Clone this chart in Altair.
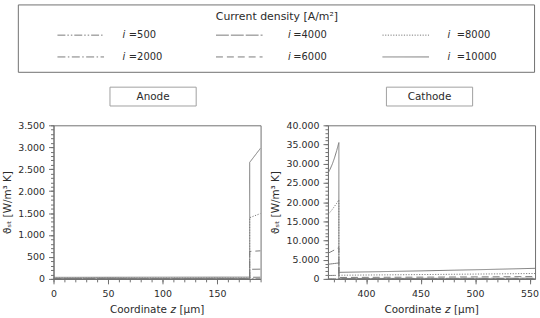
import altair as alt
import pandas as pd

# ---------------- data ----------------
currents = ["500", "2000", "4000", "6000", "8000", "10000"]

anode_z = [0, 90, 180, 180, 190]
anode_i500 = [0, 0, 0, 1, 1]
anode_i2000 = [0.5, 0.5, 0.5, 36, 38]
anode_i4000 = [3, 3, 3, 218, 222]
anode_i6000 = [8, 8, 9, 625, 640]
anode_i8000 = [18, 19, 20, 1395, 1490]
anode_i10000 = [35, 38, 40, 2655, 2980]

cathode_z = [365, 367, 369, 371, 373, 375, 375, 420, 465, 510, 555]
cathode_i500 = [20, 20, 21, 21, 22, 22, 0.3, 0.3, 0.4, 0.4, 0.5]
cathode_i2000 = [880, 890, 900, 910, 920, 930, 15, 17, 19, 22, 25]
cathode_i4000 = [3800, 3870, 3940, 4010, 4080, 4150, 110, 125, 140, 160, 180]
cathode_i6000 = [6700, 6950, 7250, 7550, 7850, 8200, 370, 420, 470, 530, 600]
cathode_i8000 = [16800, 17400, 18100, 18900, 19700, 20600, 950, 1050, 1160, 1280, 1400]
cathode_i10000 = [27500, 28600, 29900, 31500, 33400, 35500, 1700, 1920, 2170, 2440, 2750]

anode_xticks = [0, 50, 100, 150]
cathode_xticks = [400, 450, 500, 550]
anode_yticks = [0, 500, 1000, 1500, 2000, 2500, 3000, 3500]
cathode_yticks = [0, 5000, 10000, 15000, 20000, 25000, 30000, 35000, 40000]
panel_names = ["Anode", "Cathode"]
xtitle_parts = ["Coordinate", "z", "[µm]"]

# ---------------- styling ----------------
LINE = "#7a7a7a"
FRAME = "#707070"
TXT = "#2b2b2b"
PADL = 1
OX = 53  # page x of anode plot origin
PW, PH = 209, 155

dash_range = [[8, 2, 1.5, 2, 1.5, 2], [8, 2.5, 1.5, 2.5], [13, 2], [7, 4], [1.2, 1.5], [1, 0]]
dash_scale = alt.Scale(domain=currents, range=dash_range)

YTITLE = "ϑₛₜ  [W/m³ K]"
LABEL_EXPR = "replace(format(datum.value, ','), ',', '.')"


def long_df(z, series):
    rows = []
    for cur, vals in zip(currents, series):
        for k, (zz, v) in enumerate(zip(z, vals)):
            rows.append({"z": zz, "q": v, "i": cur, "k": k})
    return pd.DataFrame(rows)


anode_df = long_df(anode_z, [anode_i500, anode_i2000, anode_i4000, anode_i6000, anode_i8000, anode_i10000])
cathode_df = long_df(cathode_z, [cathode_i500, cathode_i2000, cathode_i4000, cathode_i6000, cathode_i8000, cathode_i10000])

one = alt.Data(values=[{"a": 1}])


def x_title_layers():
    # "Coordinate z [µm]" with italic z, centred under the plot
    start = PW / 2 - 47.5
    ty = PH + 31
    a = alt.Chart(one).mark_text(text=xtitle_parts[0], fontSize=10.5, color=TXT, align="left").encode(
        x=alt.value(start), y=alt.value(ty))
    b = alt.Chart(one).mark_text(text=xtitle_parts[1], fontSize=10.5, color=TXT, align="left",
                                 fontStyle="italic").encode(x=alt.value(start + 61.2), y=alt.value(ty))
    c = alt.Chart(one).mark_text(text=xtitle_parts[2], fontSize=10.5, color=TXT, align="left").encode(
        x=alt.value(start + 70.2), y=alt.value(ty))
    return [a, b, c]


def panel(df, xdom, xticks, xminor, ydom, yticks, yminor):
    xs = alt.Scale(domain=xdom, nice=False, zero=False)
    ys = alt.Scale(domain=ydom, nice=False, zero=False)
    base = alt.Chart(df)
    main = base.mark_line(color=LINE, strokeWidth=1, clip=True).encode(
        x=alt.X("z:Q", scale=xs,
                axis=alt.Axis(values=xticks, title=None, labelFlush=False,
                              labelPadding=5, format="d")),
        y=alt.Y("q:Q", scale=ys,
                axis=alt.Axis(values=yticks, title=YTITLE, labelExpr=LABEL_EXPR,
                              labelPadding=4, titlePadding=5.5)),
        strokeDash=alt.StrokeDash("i:N", scale=dash_scale, legend=None),
        order=alt.Order("k:Q"),
    )
    minor = base.mark_line(opacity=0).encode(
        x=alt.X("z:Q", scale=xs,
                axis=alt.Axis(values=xminor, labels=False, domain=False, tickSize=3,
                              title=None, orient="bottom")),
        y=alt.Y("q:Q", scale=ys,
                axis=alt.Axis(values=yminor, labels=False, domain=False, tickSize=3,
                              title=None, orient="left")),
        detail="i:N",
        order=alt.Order("k:Q"),
    )
    return alt.layer(main, minor, *x_title_layers()).resolve_axis(
        x="independent", y="independent").properties(width=PW, height=PH)


anode = panel(anode_df, [0, 190], anode_xticks, list(range(0, 191, 10)),
              [0, 3500], anode_yticks, list(range(0, 3501, 100)))
cathode = panel(cathode_df, [365, 555], cathode_xticks, list(range(370, 556, 10)),
                [0, 40000], cathode_yticks, list(range(0, 40001, 1000)))

# ---------------- legend / header ----------------
col_of = [k // 2 for k in range(len(currents))]
row_of = [k % 2 for k in range(len(currents))]
sym_x0 = [57, 217, 385]
i_x = [124, 291, 452]
eq_x = [129, 295, 460]
row_y = [33, 55]

leg_df = pd.DataFrame({
    "i": currents,
    "x0": [sym_x0[c] - OX for c in col_of],
    "x1": [sym_x0[c] + 47 - OX for c in col_of],
    "ix": [i_x[c] - OX for c in col_of],
    "ex": [eq_x[c] - OX for c in col_of],
    "y": [row_y[r] for r in row_of],
    "lab": ["=" + c for c in currents],
})

box_x0 = [110, 389]
box_x1 = [197, 476]
pan_df = pd.DataFrame({
    "name": panel_names,
    "bx0": [v - OX for v in box_x0],
    "bx1": [v - OX for v in box_x1],
    "cx": [(a + b) / 2 - OX for a, b in zip(box_x0, box_x1)],
})

frame = alt.Chart(one).mark_rect(fill="white", stroke=FRAME, strokeWidth=1).encode(
    x=alt.value(17.5 - OX), x2=alt.value(538.5 - OX), y=alt.value(2.5), y2=alt.value(70.5))
title = alt.Chart(one).mark_text(text="Current density [A/m²]", fontSize=11, color=TXT).encode(
    x=alt.value(278.5 - OX), y=alt.value(14.5))
syms = alt.Chart(leg_df).mark_rule(color=LINE, strokeWidth=1).encode(
    x=alt.X("x0:Q", scale=None, axis=None), x2="x1:Q",
    y=alt.Y("y:Q", scale=None, axis=None),
    strokeDash=alt.StrokeDash("i:N", scale=dash_scale, legend=None))
itxt = alt.Chart(leg_df).mark_text(text="i", fontStyle="italic", fontSize=10, color=TXT,
                                   align="center").encode(
    x=alt.X("ix:Q", scale=None, axis=None), y=alt.Y("y:Q", scale=None, axis=None))
etxt = alt.Chart(leg_df).mark_text(fontSize=10, color=TXT, align="left").encode(
    x=alt.X("ex:Q", scale=None, axis=None), y=alt.Y("y:Q", scale=None, axis=None),
    text="lab:N")
pbox = alt.Chart(pan_df).mark_rect(fill="white", stroke="#a0a0a0", strokeWidth=1).encode(
    x=alt.X("bx0:Q", scale=None, axis=None), x2="bx1:Q",
    y=alt.value(85.5), y2=alt.value(104.5))
ptxt = alt.Chart(pan_df).mark_text(fontSize=10.5, color=TXT).encode(
    x=alt.X("cx:Q", scale=None, axis=None), y=alt.value(95.5), text="name:N")

header = alt.layer(frame, title, syms, itxt, etxt, pbox, ptxt).properties(
    width=540 - OX - PADL, height=110, view=alt.ViewBackground(stroke="transparent"))

chart = alt.vconcat(
    header,
    alt.hconcat(anode, cathode, spacing=8),
    spacing=7,
).properties(
    padding={"left": PADL, "top": 0, "right": 0, "bottom": 0},
    background="white",
).configure(
    font="DejaVu Sans",
).configure_view(
    stroke=FRAME, strokeWidth=1,
).configure_axis(
    domainColor=FRAME, tickColor=FRAME, labelColor=TXT, titleColor=TXT,
    labelFontSize=9.5, titleFontSize=10.5, titleFontWeight="normal",
    tickSize=5, grid=False, labelFont="DejaVu Sans", titleFont="DejaVu Sans",
)

chart.save("out.html", embed_options={"renderer": "svg", "actions": False})
